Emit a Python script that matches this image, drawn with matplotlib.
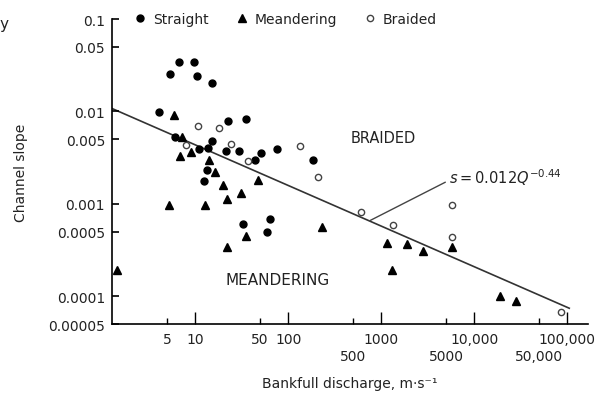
import numpy as np
import matplotlib
matplotlib.use("Agg")
import matplotlib.pyplot as plt

# values (Q in m s-1, s = channel slope)
straight_q = [4.1, 5.4, 6.7, 9.75, 10.5, 15.2, 22.6, 35.3, 6.1, 15.2, 11.0, 13.8,
              21.5, 29.7, 51.3, 76, 44, 13.5, 12.5, 32.8, 64, 59.4, 186]
straight_s = [0.0099, 0.0254, 0.0343, 0.0343, 0.0242, 0.0203, 0.0079, 0.0083, 0.0053,
              0.0048, 0.0039, 0.0040, 0.0037, 0.0037, 0.00355, 0.0039, 0.0030, 0.0023,
              0.00177, 0.0006, 0.00068, 0.0005, 0.0030]

meander_q = [5.9, 7.2, 6.9, 9.1, 14.2, 16.4, 20, 31.2, 47.5, 22.1, 5.25, 12.8, 35.3,
             22.1, 1.45, 232, 1160, 1900, 2830, 5800, 1310, 19000, 28300]
meander_s = [0.0091, 0.0053, 0.0033, 0.0036, 0.0030, 0.0022, 0.0016, 0.0013, 0.0018,
             0.00113, 0.00097, 0.00097, 0.00045, 0.00034, 0.00019, 0.00056, 0.00038,
             0.00037, 0.00031, 0.00034, 0.00019, 0.0001, 0.000089]

braided_q = [8.0, 10.8, 18.1, 24.4, 37, 135, 210, 610, 1345, 5800, 5800, 86000]
braided_s = [0.0043, 0.0070, 0.0066, 0.0044, 0.0029, 0.0042, 0.00195, 0.00082,
             0.00059, 0.00097, 0.00044, 0.0000675]

# fitted line s = 0.012 Q^-0.44
fit_a = 0.012
fit_b = -0.44
fit_q = [1.28, 105000]

x_ticks = [5, 10, 50, 100, 500, 1000, 5000, 10000, 50000, 100000]
x_labels = ["5", "10", "50", "100", "500", "1000", "5000", "10,000", "50,000", "100,000"]
x_lower = [500, 5000, 50000]          # labels on the second row
x_major = [10, 100, 1000, 10000, 100000]
y_ticks = [0.1, 0.05, 0.01, 0.005, 0.001, 0.0005, 0.0001, 0.00005]
y_labels = ["0.1", "0.05", "0.01", "0.005", "0.001", "0.0005", "0.0001", "0.00005"]

txt = "#222222"
plt.rcParams['font.family'] = ['DejaVu Sans']
plt.rcParams['font.size'] = 10

fig = plt.figure(figsize=(5.96, 4.02), dpi=100)
ax = fig.add_axes([0.188, 0.1915, 0.799, 0.7585])

ax.set_xscale('log')
ax.set_yscale('log')
ax.set_xlim(1.28, 168000)
ax.set_ylim(0.00005, 0.1)

fq = np.array(fit_q)
ax.plot(fq, fit_a * fq ** fit_b, color='#333333', lw=1.2, zorder=1)

ax.plot(straight_q, straight_s, 'o', color='black', ms=5, ls='none', label='Straight', zorder=3)
ax.plot(meander_q, meander_s, '^', color='black', ms=6, ls='none', label='Meandering', zorder=3)
ax.plot(braided_q, braided_s, 'o', mfc='white', mec='#444444', mew=1.0, ms=4.5,
        ls='none', label='Braided', zorder=3)

ax.spines['top'].set_visible(False)
ax.spines['right'].set_visible(False)
ax.spines['left'].set_linewidth(1.2)
ax.spines['bottom'].set_linewidth(1.2)

ax.xaxis.set_minor_locator(matplotlib.ticker.NullLocator())
ax.yaxis.set_minor_locator(matplotlib.ticker.NullLocator())
ax.set_xticks(x_ticks)
ax.set_xticklabels(x_labels, color=txt)
ax.set_yticks(y_ticks)
ax.set_yticklabels(y_labels, color=txt)
ax.tick_params(axis='y', direction='in', length=5, width=1.2, pad=5)
ax.tick_params(axis='x', direction='in', length=4, width=1.0, pad=6)
xt = ax.xaxis.get_major_ticks()
for i, v in enumerate(x_ticks):
    if v in x_major:
        xt[i].tick1line.set_markersize(9)
    if v in x_lower:
        xt[i].set_pad(18)

ax.set_ylabel("Channel slope", color=txt)
ax.yaxis.set_label_coords(-0.176, 0.5)
ax.set_xlabel("Bankfull discharge, m·s⁻¹", color=txt)
ax.xaxis.set_label_coords(0.5, -0.17)

ax.legend(loc='center left', bbox_to_anchor=(0.045, 1.0), ncol=3, frameon=False,
          handlelength=1.0, handletextpad=0.4, columnspacing=1.9, borderpad=0,
          borderaxespad=0, labelcolor=txt, fontsize=10)

ax.text(1050, 0.00528, "BRAIDED", ha='center', va='center', fontsize=10.5, color=txt)
ax.text(78, 0.00015, "MEANDERING", ha='center', va='center', fontsize=11, color=txt)

ax.annotate(r"$s = 0.012Q^{-0.44}$", xy=(760, 0.00066), xytext=(5400, 0.00195),
            ha='left', va='center', fontsize=10.5, color=txt,
            arrowprops=dict(arrowstyle='-', color='#444444', lw=1.0,
                            relpos=(0.0, 0.35), shrinkA=1, shrinkB=0))

fig.text(0.0, 0.94, "y", fontsize=11, color=txt, ha='left', va='center')

fig.savefig("out.png", dpi=100)
